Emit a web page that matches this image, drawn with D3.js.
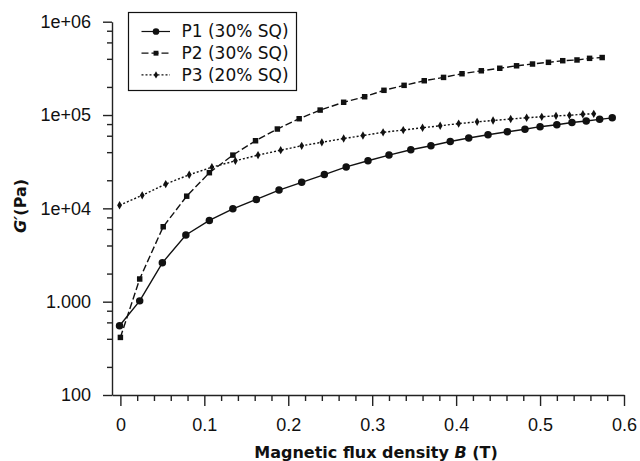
<!DOCTYPE html>
<html lang="en">
<head>
<meta charset="UTF-8">
<title>G' vs magnetic flux density</title>
<script src="https://d3js.org/d3.v7.min.js"></script>
<style>
    body { margin: 0; background: #fff; }
    svg { display: block; font-family: "DejaVu Sans", Verdana, sans-serif; }
    .axis path, .axis line { stroke: #222; stroke-width: 1.4; }
    .axis text { font-size: 18px; fill: #111; }
    .legend text { font-size: 17px; fill: #111; }
    .title { font-size: 16px; font-weight: bold; fill: #111; }
</style>
</head>
<body>
<svg width="640" height="461"></svg>
<script>
// series data: B (T) and G' (Pa)
var b1 = [-0.001, 0.023, 0.050, 0.078, 0.106, 0.134, 0.162, 0.189, 0.216, 0.243, 0.269, 0.295, 0.320, 0.346, 0.370, 0.393, 0.415, 0.438, 0.461, 0.482, 0.500, 0.520, 0.538, 0.555, 0.571, 0.586];
var g1 = [552, 1020, 2610, 5180, 7430, 9880, 12470, 15700, 19000, 23000, 27800, 32400, 37200, 42400, 46900, 52000, 56700, 61500, 66100, 70300, 75000, 78700, 83100, 86200, 89900, 93300];

var b2 = [0.000, 0.023, 0.051, 0.079, 0.106, 0.134, 0.161, 0.187, 0.213, 0.238, 0.266, 0.291, 0.314, 0.338, 0.362, 0.385, 0.407, 0.430, 0.452, 0.472, 0.491, 0.510, 0.527, 0.544, 0.559, 0.574];
var g2 = [414, 1750, 6350, 13500, 24100, 37200, 53000, 70800, 91300, 113000, 137000, 157000, 184000, 208000, 233000, 253000, 277000, 298000, 317000, 337000, 352000, 367000, 382000, 389000, 405000, 413000];

var b3 = [-0.001, 0.026, 0.054, 0.082, 0.109, 0.137, 0.164, 0.191, 0.216, 0.240, 0.266, 0.289, 0.313, 0.337, 0.360, 0.381, 0.403, 0.425, 0.444, 0.465, 0.484, 0.502, 0.519, 0.535, 0.551, 0.564];
var g3 = [10800, 13800, 18200, 22900, 27600, 32300, 37200, 42000, 46800, 51000, 56000, 60300, 65300, 69000, 73100, 76700, 80900, 84500, 87300, 90600, 93500, 95700, 98000, 99300, 102000, 103000];

var seriesNames = ["P1 (30% SQ)", "P2 (30% SQ)", "P3 (20% SQ)"];

var xTicks = [0, 0.1, 0.2, 0.3, 0.4, 0.5, 0.6];
var yTicks = [100, 1000, 1e4, 1e5, 1e6];
var yTickLabels = ["100", "1.000", "1e+04", "1e+05", "1e+06"];

var svg = d3.select("svg");

var x = d3.scaleLinear().domain([-0.01, 0.6]).range([112, 624]);
var y = d3.scaleLog().domain([100, 1e6]).range([395, 21.7]);

// minor ticks
var xMinor = d3.range(0.02, 0.6, 0.02).filter(function(v) { return Math.abs(v * 10 - Math.round(v * 10)) > 1e-6; });
var yMinor = [];
[100, 1000, 1e4, 1e5].forEach(function(d) { [2, 4, 6, 8].forEach(function(m) { yMinor.push(d * m); }); });

svg.append("g").attr("class", "axis")
    .attr("transform", "translate(0,395)")
    .call(d3.axisBottom(x).tickValues(xMinor).tickSize(6).tickFormat(""))
    .select(".domain").remove();

svg.append("g").attr("class", "axis")
    .attr("transform", "translate(112,0)")
    .call(d3.axisLeft(y).tickValues(yMinor).tickSize(5).tickFormat(""))
    .select(".domain").remove();

svg.append("g").attr("class", "axis")
    .attr("transform", "translate(0,395)")
    .call(d3.axisBottom(x).tickValues(xTicks).tickSize(11).tickSizeOuter(0)
        .tickFormat(function(d) { return d === 0 ? "0" : d3.format(".1f")(d); }))
    .call(function(g) { g.selectAll("text").attr("dy", "0").attr("y", 36); });

svg.append("g").attr("class", "axis")
    .attr("transform", "translate(112,0)")
    .call(d3.axisLeft(y).tickValues(yTicks).tickSize(9).tickSizeOuter(0)
        .tickFormat(function(d, i) { return yTickLabels[i]; }))
    .call(function(g) { g.selectAll("text").attr("x", -21); });

// axis titles
var xt = svg.append("text").attr("class", "title")
    .attr("x", 376).attr("y", 458).attr("text-anchor", "middle");
xt.append("tspan").text("Magnetic flux density ");
xt.append("tspan").attr("font-style", "italic").text("B");
xt.append("tspan").text(" (T)");

var yt = svg.append("text").attr("class", "title")
    .attr("transform", "translate(26,206) rotate(-90)").attr("text-anchor", "middle");
yt.append("tspan").attr("font-style", "italic").text("G\u2032");
yt.append("tspan").text("(Pa)");

// lines
var series = [
    { b: b1, g: g1, dash: null, sym: d3.symbolCircle, size: 44 },
    { b: b2, g: g2, dash: "7,3", sym: d3.symbolSquare, size: 30 },
    { b: b3, g: g3, dash: "2,2", sym: d3.symbolDiamond, size: 20 }
];

var line = d3.line()
    .x(function(d) { return x(d[0]); })
    .y(function(d) { return y(d[1]); });

series.forEach(function(s) {
    var pts = d3.zip(s.b, s.g);
    svg.append("path")
        .datum(pts)
        .attr("fill", "none")
        .attr("stroke", "#111")
        .attr("stroke-width", 1.4)
        .attr("stroke-dasharray", s.dash)
        .attr("d", line);
    svg.selectAll(null)
        .data(pts)
        .enter().append("path")
        .attr("transform", function(d) { return "translate(" + x(d[0]) + "," + y(d[1]) + ")"; })
        .attr("d", d3.symbol().type(s.sym).size(s.size))
        .attr("fill", "#111");
});

// legend
var lg = svg.append("g").attr("class", "legend");
lg.append("rect")
    .attr("x", 128.5).attr("y", 12.5).attr("width", 168).attr("height", 78)
    .attr("fill", "#fff").attr("stroke", "#111").attr("stroke-width", 1.2);

series.forEach(function(s, i) {
    var ly = 31.5 + i * 21.7;
    lg.append("line")
        .attr("x1", 141.5).attr("x2", 170).attr("y1", ly).attr("y2", ly)
        .attr("stroke", "#111").attr("stroke-width", 1.2)
        .attr("stroke-dasharray", s.dash);
    lg.append("path")
        .attr("transform", "translate(156," + ly + ")")
        .attr("d", d3.symbol().type(s.sym).size(s.size * 0.8))
        .attr("fill", "#111");
    lg.append("text")
        .attr("x", 181.5).attr("y", ly).attr("dy", "0.35em")
        .text(seriesNames[i]);
});
</script>
</body>
</html>
